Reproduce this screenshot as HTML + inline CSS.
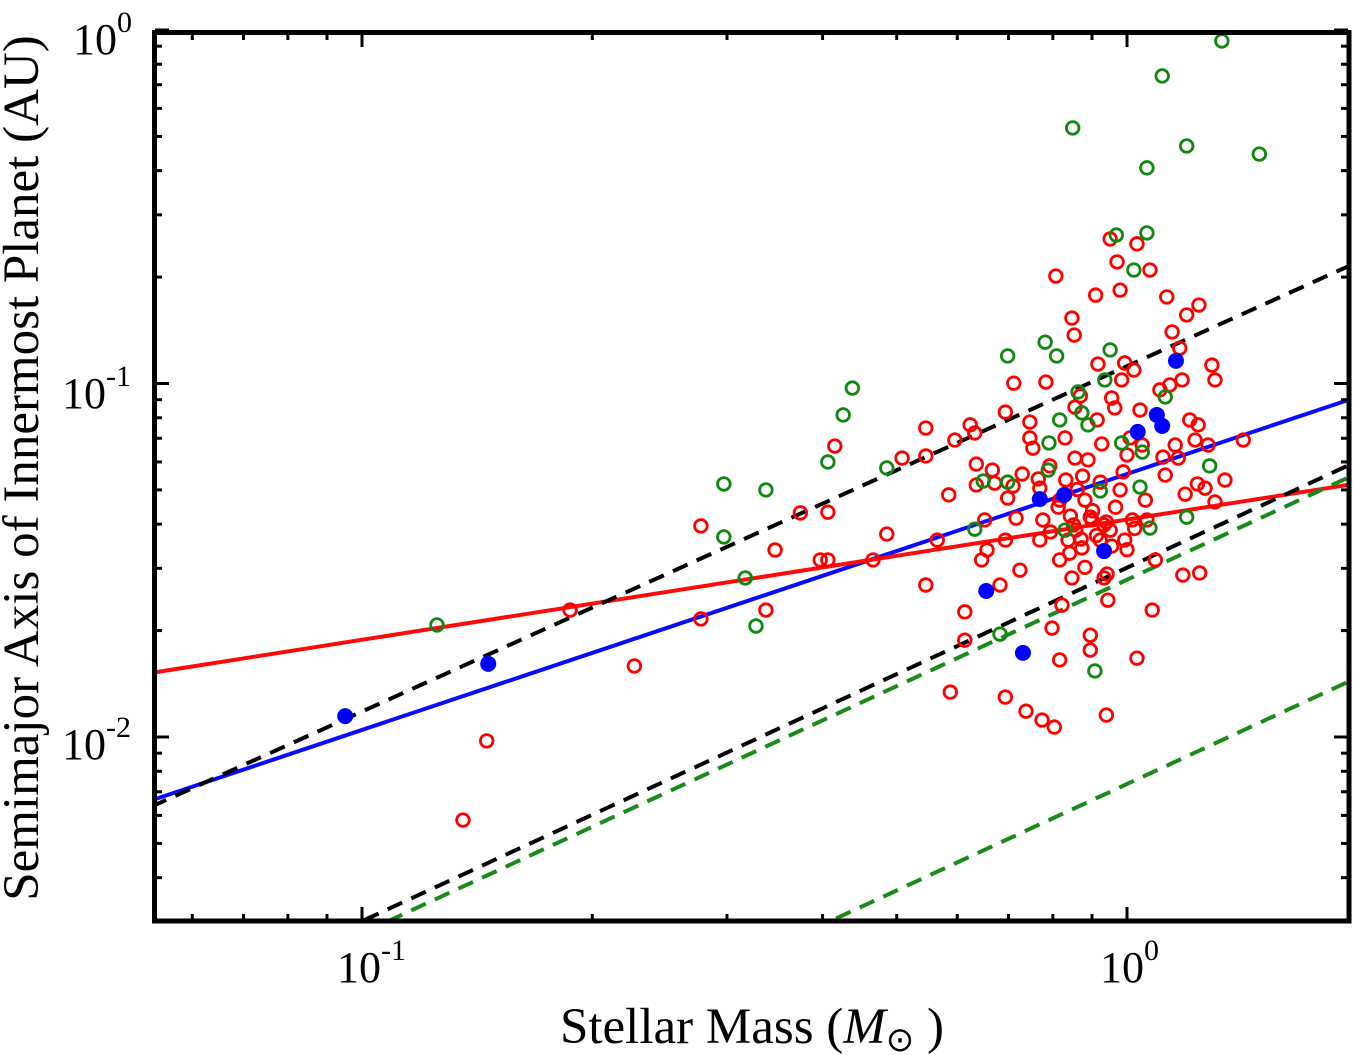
<!DOCTYPE html>
<html><head><meta charset="utf-8"><style>
html,body{margin:0;padding:0;background:#fff;overflow:hidden;width:1353px;height:1055px;}
svg{display:block;font-family:"Liberation Serif",serif;}
</style></head><body>
<svg id="chart" width="1353" height="1055" viewBox="0 0 1353 1055">
<defs><clipPath id="plotclip"><rect x="155" y="33" width="1193" height="887"/></clipPath></defs>
<g id="lines" clip-path="url(#plotclip)"></g>
<g id="points" clip-path="url(#plotclip)"></g>
<g id="ticks"></g>
<rect x="154.5" y="32.5" width="1194.5" height="888.5" fill="none" stroke="#000" stroke-width="5"/>
<g font-size="44">
<text x="73" y="54">10<tspan dy="-22" font-size="30">0</tspan></text>
<text x="62" y="408">10<tspan dy="-22" font-size="30">-1</tspan></text>
<text x="62" y="759">10<tspan dy="-22" font-size="30">-2</tspan></text>
</g>
<g font-size="44">
<text x="337" y="982">10<tspan dy="-22" font-size="30">-1</tspan></text>
<text x="1100" y="982">10<tspan dy="-22" font-size="30">0</tspan></text>
</g>
<text x="752" y="1043" font-size="51" text-anchor="middle">Stellar Mass (<tspan font-style="italic">M</tspan><tspan font-size="34" dy="8">⊙</tspan><tspan dy="-8"> )</tspan></text>
<text transform="translate(38,468) rotate(-90)" font-size="51" text-anchor="middle">Semimajor Axis of Innermost Planet (AU)</text>
</svg>
<script>
// log10 values
const redLogMass=[-0.868,-0.837,-0.728,-0.644,-0.557,-0.557,-0.472,-0.460,-0.427,-0.401,-0.391,-0.382,-0.391,-0.332,-0.314,-0.294,-0.263,-0.263,-0.248,-0.263,-0.233,-0.231,-0.225,-0.212,-0.212,-0.205,-0.199,-0.197,-0.197,-0.190,-0.186,-0.183,-0.176,-0.173,-0.159,-0.159,-0.148,-0.156,-0.145,-0.140,-0.137,-0.132,-0.127,-0.127,-0.123,-0.116,-0.114,-0.111,-0.106,-0.101,-0.098,-0.095,-0.093,-0.088,-0.088,-0.085,-0.081,-0.080,-0.077,-0.074,-0.072,-0.072,-0.069,-0.068,-0.068,-0.067,-0.061,-0.059,-0.058,-0.055,-0.051,-0.048,-0.048,-0.046,-0.041,-0.039,-0.038,-0.035,-0.035,-0.033,-0.030,-0.027,-0.025,-0.022,-0.022,-0.020,-0.016,-0.013,-0.009,-0.009,-0.007,-0.003,0,0.004,0.007,0.009,0.013,0.013,0.017,0.020,0.024,0.026,0.030,0.033,0.037,0.039,0.043,0.050,0.052,0.056,0.059,0.063,0.067,0.069,0.072,0.073,0.076,0.078,0.082,0.089,0.092,0.093,0.094,0.095,0.102,0.106,0.111,0.115,0.128,0.152,0.115,0.047,-0.003,-0.026,-0.027,-0.048,-0.088,-0.110,-0.114,-0.149,-0.159,-0.166,-0.100,-0.070,-0.060,-0.040,-0.020,0.010,-0.090,-0.065,-0.045,-0.015,0.000,-0.075,-0.055,-0.030,-0.005];
const redLogA=[-2.235,-2.011,-1.641,-1.799,-1.403,-1.666,-1.641,-1.471,-1.366,-1.499,-1.499,-1.177,-1.364,-1.499,-1.426,-1.211,-1.126,-1.205,-1.443,-1.570,-1.315,-1.873,-1.160,-1.646,-1.726,-1.117,-1.140,-1.228,-1.287,-1.499,-1.386,-1.471,-1.245,-1.282,-1.081,-1.887,-0.999,-1.324,-1.381,-1.528,-1.256,-1.927,-1.109,-1.154,-1.183,-1.270,-1.296,-1.952,-0.996,-1.233,-1.692,-1.972,-0.696,-1.782,-1.330,-1.627,-1.154,-1.273,-1.443,-1.375,-0.815,-1.550,-0.863,-1.067,-1.211,-1.415,-1.035,-1.465,-1.262,-1.330,-1.216,-1.712,-1.754,-1.386,-0.750,-1.103,-0.945,-1.443,-1.279,-1.171,-1.550,-1.938,-1.613,-0.591,-1.415,-1.041,-1.069,-0.656,-0.736,-1.301,-0.990,-0.942,-1.202,-1.154,-1.386,-0.962,-0.605,-1.777,-1.075,-1.174,-1.330,-1.386,-0.679,-1.641,-1.499,-1.089,-1.018,-1.259,-0.755,-1.004,-0.854,-1.174,-1.211,-0.900,-0.990,-1.542,-1.313,-0.806,-1.103,-1.160,-1.284,-1.117,-0.778,-1.536,-1.296,-1.174,-0.948,-0.990,-1.273,-1.160,-1.335,-1.208,-1.443,-1.539,-1.392,-1.378,-1.499,-1.386,-1.443,-1.290,-1.443,-1.570,-1.420,-1.400,-1.440,-1.430,-1.460,-1.410,-1.350,-1.300,-1.360,-1.350,-1.470,-1.480,-1.520,-1.400,-1.250];
const greenLogMass=[-0.902,-0.527,-0.527,-0.499,-0.485,-0.472,-0.391,-0.371,-0.359,-0.314,-0.199,-0.188,-0.166,-0.156,-0.107,-0.092,-0.102,-0.071,-0.064,-0.051,-0.029,-0.022,-0.014,-0.007,0.009,0.026,0.026,0.046,0.078,0.124,0.173,0.108,0.078,0.020,-0.042,0.030,0.017,-0.103,-0.081,-0.088,-0.035,-0.059,0.050,-0.156];
const greenLogA=[-1.683,-1.284,-1.434,-1.550,-1.686,-1.301,-1.222,-1.089,-1.013,-1.239,-1.412,-1.276,-1.709,-0.922,-0.883,-0.922,-1.168,-0.277,-1.024,-1.117,-0.990,-0.905,-0.580,-1.168,-0.679,-0.390,-0.574,-0.130,-0.328,-0.031,-0.351,-1.233,-1.378,-1.194,-1.813,-1.409,-1.293,-1.245,-1.415,-1.103,-1.304,-1.083,-1.038,-1.279];
const blueLogMass=[-1.022,-0.835,-0.184,-0.136,-0.114,-0.082,-0.030,0.014,0.039,0.046,0.064];
const blueLogA=[-1.941,-1.793,-1.587,-1.762,-1.327,-1.315,-1.474,-1.137,-1.089,-1.120,-0.936];
// fit lines: log10(a) = intercept + slope*log10(M)
const fitNames=['blue-fit','red-fit','black-upper','black-lower','green-upper','green-lower'];
const fitIntercept=[-1.256,-1.385,-0.951,-1.521,-1.555,-2.133];
const fitSlope=[0.724,0.340,0.977,1.0,1.0,1.0];
const fitColor=['#0a0aff','#ff0a0a','#000','#000','#1a8a1a','#1a8a1a'];
const fitDash=[null,null,'16,10','16,10','16,10','16,10'];
const xMajor=[-1,0];
const xMinor=[0.06,0.07,0.08,0.09,0.2,0.3,0.4,0.5,0.6,0.7,0.8,0.9];
const yMajor=[0,-1,-2];
const yMinor=[0.004,0.005,0.006,0.007,0.008,0.009,0.02,0.03,0.04,0.05,0.06,0.07,0.08,0.09,0.2,0.3,0.4,0.5,0.6,0.7,0.8,0.9];

const X0=1127,XD=765,Y0=30,YD=353.5;
const LMIN=-1.275,LMAX=0.295;
function xs(l){return X0+XD*l;}
function ys(l){return Y0-YD*l;}
const NS='http://www.w3.org/2000/svg';
function mk(t,a){const e=document.createElementNS(NS,t);for(const k in a)e.setAttribute(k,a[k]);return e;}

const lg=document.getElementById('lines');
for(let i=0;i<fitNames.length;i++){
  const l=mk('line',{x1:xs(LMIN),y1:ys(fitIntercept[i]+fitSlope[i]*LMIN),x2:xs(LMAX),y2:ys(fitIntercept[i]+fitSlope[i]*LMAX),stroke:fitColor[i],'stroke-width':4});
  if(fitDash[i])l.setAttribute('stroke-dasharray',fitDash[i]);
  
  
  lg.appendChild(l);
}
const pg=document.getElementById('points');
for(let i=0;i<redLogMass.length;i++){
  const c=mk('circle',{cx:xs(redLogMass[i]),cy:ys(redLogA[i]),r:6.3,fill:'none',stroke:'#ff0000','stroke-width':2.8});
  
  
  pg.appendChild(c);
}
for(let i=0;i<greenLogMass.length;i++){
  const c=mk('circle',{cx:xs(greenLogMass[i]),cy:ys(greenLogA[i]),r:6.3,fill:'none',stroke:'#118811','stroke-width':2.8});
  
  
  pg.appendChild(c);
}
for(let i=0;i<blueLogMass.length;i++){
  const c=mk('circle',{cx:xs(blueLogMass[i]),cy:ys(blueLogA[i]),r:8,fill:'#0000ff'});
  
  
  pg.appendChild(c);
}
const tg=document.getElementById('ticks');
function tick(x1,y1,x2,y2){const t=mk('line',{x1:x1,y1:y1,x2:x2,y2:y2,stroke:'#000','stroke-width':3});
  
  
  tg.appendChild(t);}
xMajor.forEach(v=>{const x=xs(v);tick(x,921,x,907);tick(x,33,x,47);});
xMinor.forEach(v=>{const x=xs(Math.log10(v));tick(x,921,x,914);tick(x,33,x,40);});
yMajor.forEach(v=>{const y=ys(v);tick(155,y,169,y);tick(1348,y,1334,y);});
yMinor.forEach(v=>{const y=ys(Math.log10(v));tick(155,y,162,y);tick(1348,y,1341,y);});
</script>
</body></html>
